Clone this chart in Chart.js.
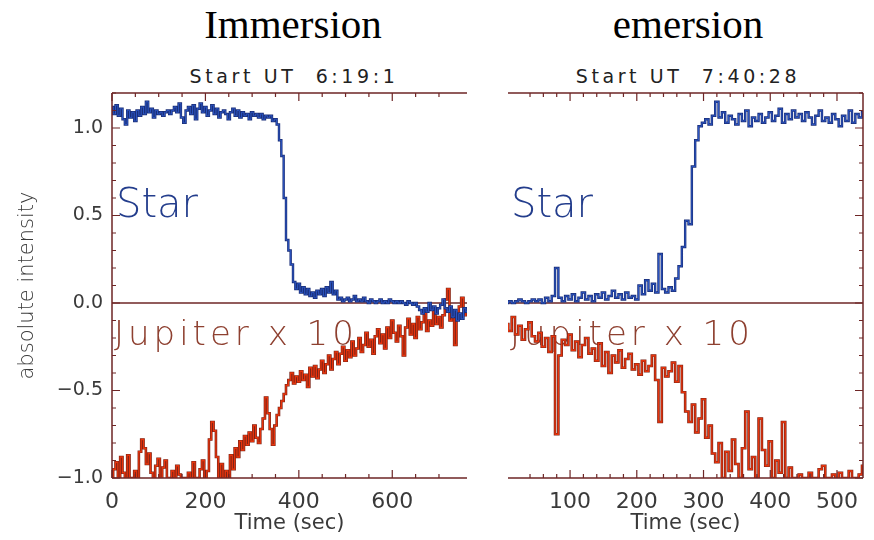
<!DOCTYPE html>
<html>
<head>
<meta charset="utf-8">
<script src="https://cdn.jsdelivr.net/npm/chart.js@4.4.1/dist/chart.umd.min.js"></script>
<style>
  body { margin: 0; background: #fff; width: 874px; height: 540px; position: relative; overflow: hidden; }
  canvas { position: absolute; top: 0; }
  .title { position: absolute; font-family: "Liberation Serif", serif; font-size: 41px; line-height: 41px; color: #000; white-space: nowrap; transform: translateX(-50%); }
  .sub { position: absolute; font-family: "DejaVu Sans", sans-serif; font-size: 19px; line-height: 19px; letter-spacing: 3.6px; color: #222; white-space: pre; transform: translateX(-50%); }
</style>
</head>
<body>
<div class="title" style="left:293px; top:4px;">Immersion</div>
<div class="title" style="left:688px; top:4px;">emersion</div>
<div class="sub" style="left:294px; top:67px;">Start UT  6:19:1</div>
<div class="sub" style="left:688px; top:67px;">Start UT  7:40:28</div>
<canvas id="immersionChart" width="480" height="540" style="left:0px"></canvas>
<canvas id="emersionChart" width="394" height="540" style="left:480px"></canvas>
<script>
// Immersion: samples every 5 s starting at 0 s
const immStep = 5;
const immStar = [
  1.12, 1.08, 1.13, 1.07, 1.11, 1.05, 1.02, 1.10, 1.06, 1.09,
  1.04, 1.10, 1.07, 1.12, 1.08, 1.15, 1.09, 1.11, 1.06, 1.10,
  1.08, 1.09, 1.07, 1.09, 1.10, 1.08, 1.10, 1.12, 1.09, 1.14,
  1.06, 1.03, 1.10, 1.12, 1.08, 1.13, 1.05, 1.11, 1.14, 1.09,
  1.12, 1.07, 1.10, 1.13, 1.08, 1.11, 1.06, 1.09, 1.10, 1.08,
  1.05, 1.09, 1.11, 1.07, 1.10, 1.06, 1.09, 1.07, 1.08, 1.05,
  1.09, 1.07, 1.08, 1.06, 1.08, 1.05, 1.07, 1.06, 1.07, 1.04,
  1.05, 1.02, 0.93, 0.84, 0.60, 0.36, 0.30, 0.22, 0.12, 0.08,
  0.11, 0.06, 0.09, 0.05, 0.08, 0.04, 0.06, 0.03, 0.07, 0.05,
  0.08, 0.04, 0.09, 0.06, 0.12, 0.05, 0.07, 0.02, 0.03, 0.01,
  0.02, 0.03, 0.01, 0.02, 0.04, 0.01, 0.02, 0.01, 0.03, 0.01,
  0.00, 0.02, 0.01, 0.00, 0.01, 0.02, 0.00, 0.01, 0.00, 0.02,
  0.01, 0.00, 0.01, 0.00, 0.01, 0.00, -0.01, 0.01, 0.00, -0.01,
  0.00, -0.02, -0.04, -0.06, -0.03, -0.05, 0.00, -0.04, -0.02, -0.06,
  -0.03, -0.01, 0.02, -0.03, -0.05, -0.02, -0.08, -0.04, -0.10, -0.06,
  -0.09, -0.03, -0.05
];
const immJupiter = [
  -1.00, -0.95, -0.91, -1.00, -0.88, -0.97, -1.00, -0.87, -1.00, -1.00,
  -0.96, -1.00, -0.85, -0.78, -0.83, -0.92, -0.86, -0.97, -1.00, -0.93,
  -0.89, -1.00, -0.94, -0.90, -1.00, -1.00, -0.96, -1.00, -0.93, -0.98,
  -1.00, -1.00, -1.00, -0.97, -1.00, -0.91, -1.00, -1.00, -0.95, -0.90,
  -1.00, -0.96, -0.78, -0.68, -0.73, -0.88, -1.00, -0.92, -1.00, -0.96,
  -1.00, -0.87, -0.95, -0.83, -0.88, -0.79, -0.84, -0.76, -0.81, -0.74,
  -0.79, -0.70, -0.77, -0.80, -0.72, -0.66, -0.54, -0.63, -0.72, -0.81,
  -0.70, -0.64, -0.60, -0.56, -0.52, -0.47, -0.44, -0.40, -0.46, -0.42,
  -0.45, -0.39, -0.44, -0.41, -0.48, -0.37, -0.42, -0.36, -0.43, -0.38,
  -0.33, -0.40, -0.35, -0.30, -0.38, -0.32, -0.28, -0.35, -0.29, -0.25,
  -0.33, -0.27, -0.31, -0.22, -0.30, -0.26, -0.20, -0.28, -0.24, -0.17,
  -0.25, -0.21, -0.29, -0.19, -0.15, -0.23, -0.18, -0.26, -0.14, -0.20,
  -0.10, -0.17, -0.22, -0.13, -0.19, -0.30, -0.14, -0.09, -0.18, -0.12,
  -0.20, -0.08, -0.15, -0.11, -0.06, -0.16, -0.10, -0.13, -0.05, -0.12,
  -0.08, -0.14, -0.07, 0.02, 0.08, -0.10, -0.05, -0.24, -0.09, -0.02,
  0.03, -0.07, -0.04
];

// Emersion: samples every 5 s starting at 0 s
const emeStep = 5;
const emeStar = [
  0.01, 0.00, 0.01, 0.00, 0.01, 0.02, 0.01, 0.00, 0.01, 0.02,
  0.01, 0.02, 0.00, 0.03, 0.01, 0.04, 0.20, 0.03, 0.01, 0.04,
  0.02, 0.05, 0.01, 0.03, 0.06, 0.02, 0.04, 0.01, 0.05, 0.03,
  0.06, 0.02, 0.04, 0.07, 0.03, 0.05, 0.02, 0.06, 0.03, 0.04,
  0.02, 0.10, 0.05, 0.13, 0.07, 0.11, 0.06, 0.28, 0.08, 0.06,
  0.09, 0.07, 0.14, 0.21, 0.32, 0.47, 0.45, 0.78, 0.93, 1.01,
  1.03, 1.05, 1.02, 1.07, 1.15, 1.06, 1.09, 1.03, 1.07, 1.05,
  1.02, 1.08, 1.04, 1.10, 1.01, 1.06, 1.04, 1.08, 1.03, 1.06,
  1.09, 1.04, 1.07, 1.11, 1.03, 1.08, 1.05, 1.10, 1.06, 1.08,
  1.04, 1.09, 1.06, 1.02, 1.07, 1.10, 1.04, 1.06, 1.03, 1.08,
  1.05, 1.01, 1.07, 1.04, 1.10, 1.03, 1.08, 1.06, 1.09
];
const emeJupiter = [
  -0.14, -0.12, -0.16, -0.08, -0.18, -0.13, -0.21, -0.15, -0.11, -0.19,
  -0.22, -0.17, -0.25, -0.20, -0.28, -0.19, -0.75, -0.30, -0.21, -0.24,
  -0.18, -0.27, -0.22, -0.31, -0.24, -0.20, -0.29, -0.26, -0.33, -0.23,
  -0.36, -0.28, -0.40, -0.30, -0.34, -0.27, -0.37, -0.32, -0.29, -0.38,
  -0.35, -0.41, -0.33, -0.39, -0.36, -0.30, -0.44, -0.68, -0.37, -0.42,
  -0.39, -0.34, -0.45, -0.36, -0.51, -0.62, -0.68, -0.58, -0.74, -0.66,
  -0.55, -0.77, -0.70, -0.86, -0.91, -0.80, -1.00, -0.85, -0.96, -0.78,
  -0.92, -1.00, -0.83, -0.62, -0.95, -0.88, -1.00, -0.66, -0.84, -0.93,
  -0.79, -1.00, -0.90, -0.97, -0.68, -1.00, -0.94, -1.00, -1.00, -0.98,
  -1.00, -1.00, -0.97, -1.00, -1.00, -0.95, -0.93, -1.00, -1.00, -0.98,
  -1.00, -0.97, -1.00, -1.00, -0.96, -1.00, -1.00, -0.98, -0.93
];

const frameColor = "#6e2626";
const starDark = "#1b2f78";
const starLight = "#2c56c4";
const jupDark = "#7a2418";
const jupLight = "#e8340c";
const textGrey = "#3a3a3a";

function toPoints(values, step) {
  return values.map((v, i) => ({ x: i * step, y: v }));
}

function isMultiple(v, step) {
  const q = v / step;
  return Math.abs(q - Math.round(q)) < 1e-6;
}

// IDL-style frame: inward ticks, zero line and in-plot labels
const idlFrame = {
  id: "idlFrame",
  beforeDatasetsDraw(chart, args, opts) {
    const { ctx, chartArea: a } = chart;
    const y = chart.scales.y;
    ctx.save();
    ctx.strokeStyle = frameColor;
    ctx.lineWidth = 1.5;
    const y0 = y.getPixelForValue(0);
    ctx.beginPath();
    ctx.moveTo(a.left, y0);
    ctx.lineTo(a.right, y0);
    ctx.stroke();
    opts.labels.forEach((l) => {
      ctx.font = l.font;
      ctx.fillStyle = l.color;
      ctx.letterSpacing = l.spacing || "0px";
      ctx.textBaseline = "alphabetic";
      ctx.fillText(l.text, l.x, l.y);
    });
    ctx.restore();
  },
  afterDatasetsDraw(chart, args, opts) {
    const { ctx, chartArea: a } = chart;
    const { x, y } = chart.scales;
    ctx.save();
    ctx.strokeStyle = frameColor;
    ctx.lineWidth = 1.5;
    ctx.beginPath();
    ctx.moveTo(a.left, a.top);
    ctx.lineTo(a.right, a.top);
    ctx.moveTo(a.left, a.bottom);
    ctx.lineTo(a.right, a.bottom);
    const sx = opts.side === "left" ? a.left : a.right;
    ctx.moveTo(sx, a.top);
    ctx.lineTo(sx, a.bottom);
    ctx.stroke();

    ctx.lineWidth = 1.2;
    ctx.beginPath();
    x.ticks.forEach((t) => {
      if (!isMultiple(t.value, opts.xMinor)) return;
      const len = isMultiple(t.value, opts.xMajor) ? 8 : 4;
      const px = x.getPixelForValue(t.value);
      ctx.moveTo(px, a.top);
      ctx.lineTo(px, a.top + len);
      ctx.moveTo(px, a.bottom);
      ctx.lineTo(px, a.bottom - len);
    });
    const dir = opts.side === "left" ? 1 : -1;
    y.ticks.forEach((t) => {
      if (!isMultiple(t.value, opts.yMinor)) return;
      const len = isMultiple(t.value, opts.yMajor) ? 8 : 4;
      const py = y.getPixelForValue(t.value);
      ctx.moveTo(sx, py);
      ctx.lineTo(sx + dir * len, py);
    });
    ctx.stroke();
    ctx.restore();
  },
};

function lineSet(data, color, width) {
  return {
    data,
    borderColor: color,
    borderWidth: width,
    pointRadius: 0,
    stepped: "middle",
    fill: false,
  };
}

function makePanel(canvasId, cfg) {
  const ctx = document.getElementById(canvasId).getContext("2d");
  const star = toPoints(cfg.star, cfg.step);
  const jup = toPoints(cfg.jupiter, cfg.step);
  return new Chart(ctx, {
    type: "line",
    data: {
      datasets: [
        lineSet(star, starLight, 1),
        lineSet(star, starDark, 2.4),
        lineSet(jup, jupLight, 1.3),
        lineSet(jup, jupDark, 2.6),
      ],
    },
    options: {
      responsive: false,
      animation: false,
      devicePixelRatio: 1,
      layout: { padding: cfg.padding },
      plugins: {
        legend: { display: false },
        tooltip: { enabled: false },
        idlFrame: {
          side: cfg.side,
          xMinor: cfg.xMinor,
          xMajor: cfg.xMajor,
          yMinor: 0.1,
          yMajor: 0.5,
          labels: cfg.labels,
        },
      },
      scales: {
        x: {
          type: "linear",
          min: cfg.xMin,
          max: cfg.xMax,
          grid: { display: false, drawTicks: false },
          border: { display: false },
          ticks: {
            stepSize: cfg.xMinor,
            autoSkip: false,
            maxRotation: 0,
            padding: 11,
            color: textGrey,
            font: { family: "DejaVu Sans", size: 22 },
            callback: (v) => (isMultiple(v, cfg.xMajor) ? String(Math.round(v)) : ""),
          },
          title: {
            display: true,
            text: "Time (sec)",
            color: textGrey,
            font: { family: "DejaVu Sans", size: 21 },
            padding: { top: 0, bottom: 4 },
          },
          afterFit: (s) => { s.height = 62; },
        },
        y: {
          type: "linear",
          min: -1.0,
          max: 1.2,
          grid: { display: false, drawTicks: false },
          border: { display: false },
          ticks: {
            display: cfg.side === "left",
            stepSize: 0.1,
            autoSkip: false,
            padding: 9,
            color: textGrey,
            font: { family: "DejaVu Sans", size: 19 },
            callback: (v) => {
              if (!isMultiple(v, 0.5)) return "";
              const s = Math.abs(v).toFixed(1);
              return v < -1e-6 ? "\u2212" + s : s;
            },
          },
          title: {
            display: cfg.side === "left",
            text: "absolute intensity",
            color: textGrey,
            font: { family: "DejaVu Sans", size: 21, weight: "300" },
            padding: { top: 15, bottom: 0 },
          },
          afterFit: (s) => { s.width = cfg.yWidth; },
        },
      },
    },
    plugins: [idlFrame],
  });
}

makePanel("immersionChart", {
  star: immStar,
  jupiter: immJupiter,
  step: immStep,
  xMin: 0,
  xMax: 760,
  xMinor: 50,
  xMajor: 200,
  side: "left",
  yWidth: 112,
  padding: { top: 93, right: 13, bottom: 0, left: 0 },
  labels: [
    { text: "Star", x: 116, y: 217, font: "300 40px 'DejaVu Sans'", color: "#233d8c" },
    { text: "Jupiter x 10", x: 114, y: 345, font: "300 34px 'DejaVu Sans'", color: "#8e4030", spacing: "4px" },
  ],
});

makePanel("emersionChart", {
  star: emeStar,
  jupiter: emeJupiter,
  step: emeStep,
  xMin: 7,
  xMax: 539,
  xMinor: 20,
  xMajor: 100,
  side: "right",
  yWidth: 0,
  padding: { top: 93, right: 3, bottom: 0, left: 28 },
  labels: [
    { text: "Star", x: 31, y: 217, font: "300 40px 'DejaVu Sans'", color: "#233d8c" },
    { text: "Jupiter x 10", x: 30, y: 345, font: "300 34px 'DejaVu Sans'", color: "#8e4030", spacing: "4px" },
  ],
});
</script>
</body>
</html>
